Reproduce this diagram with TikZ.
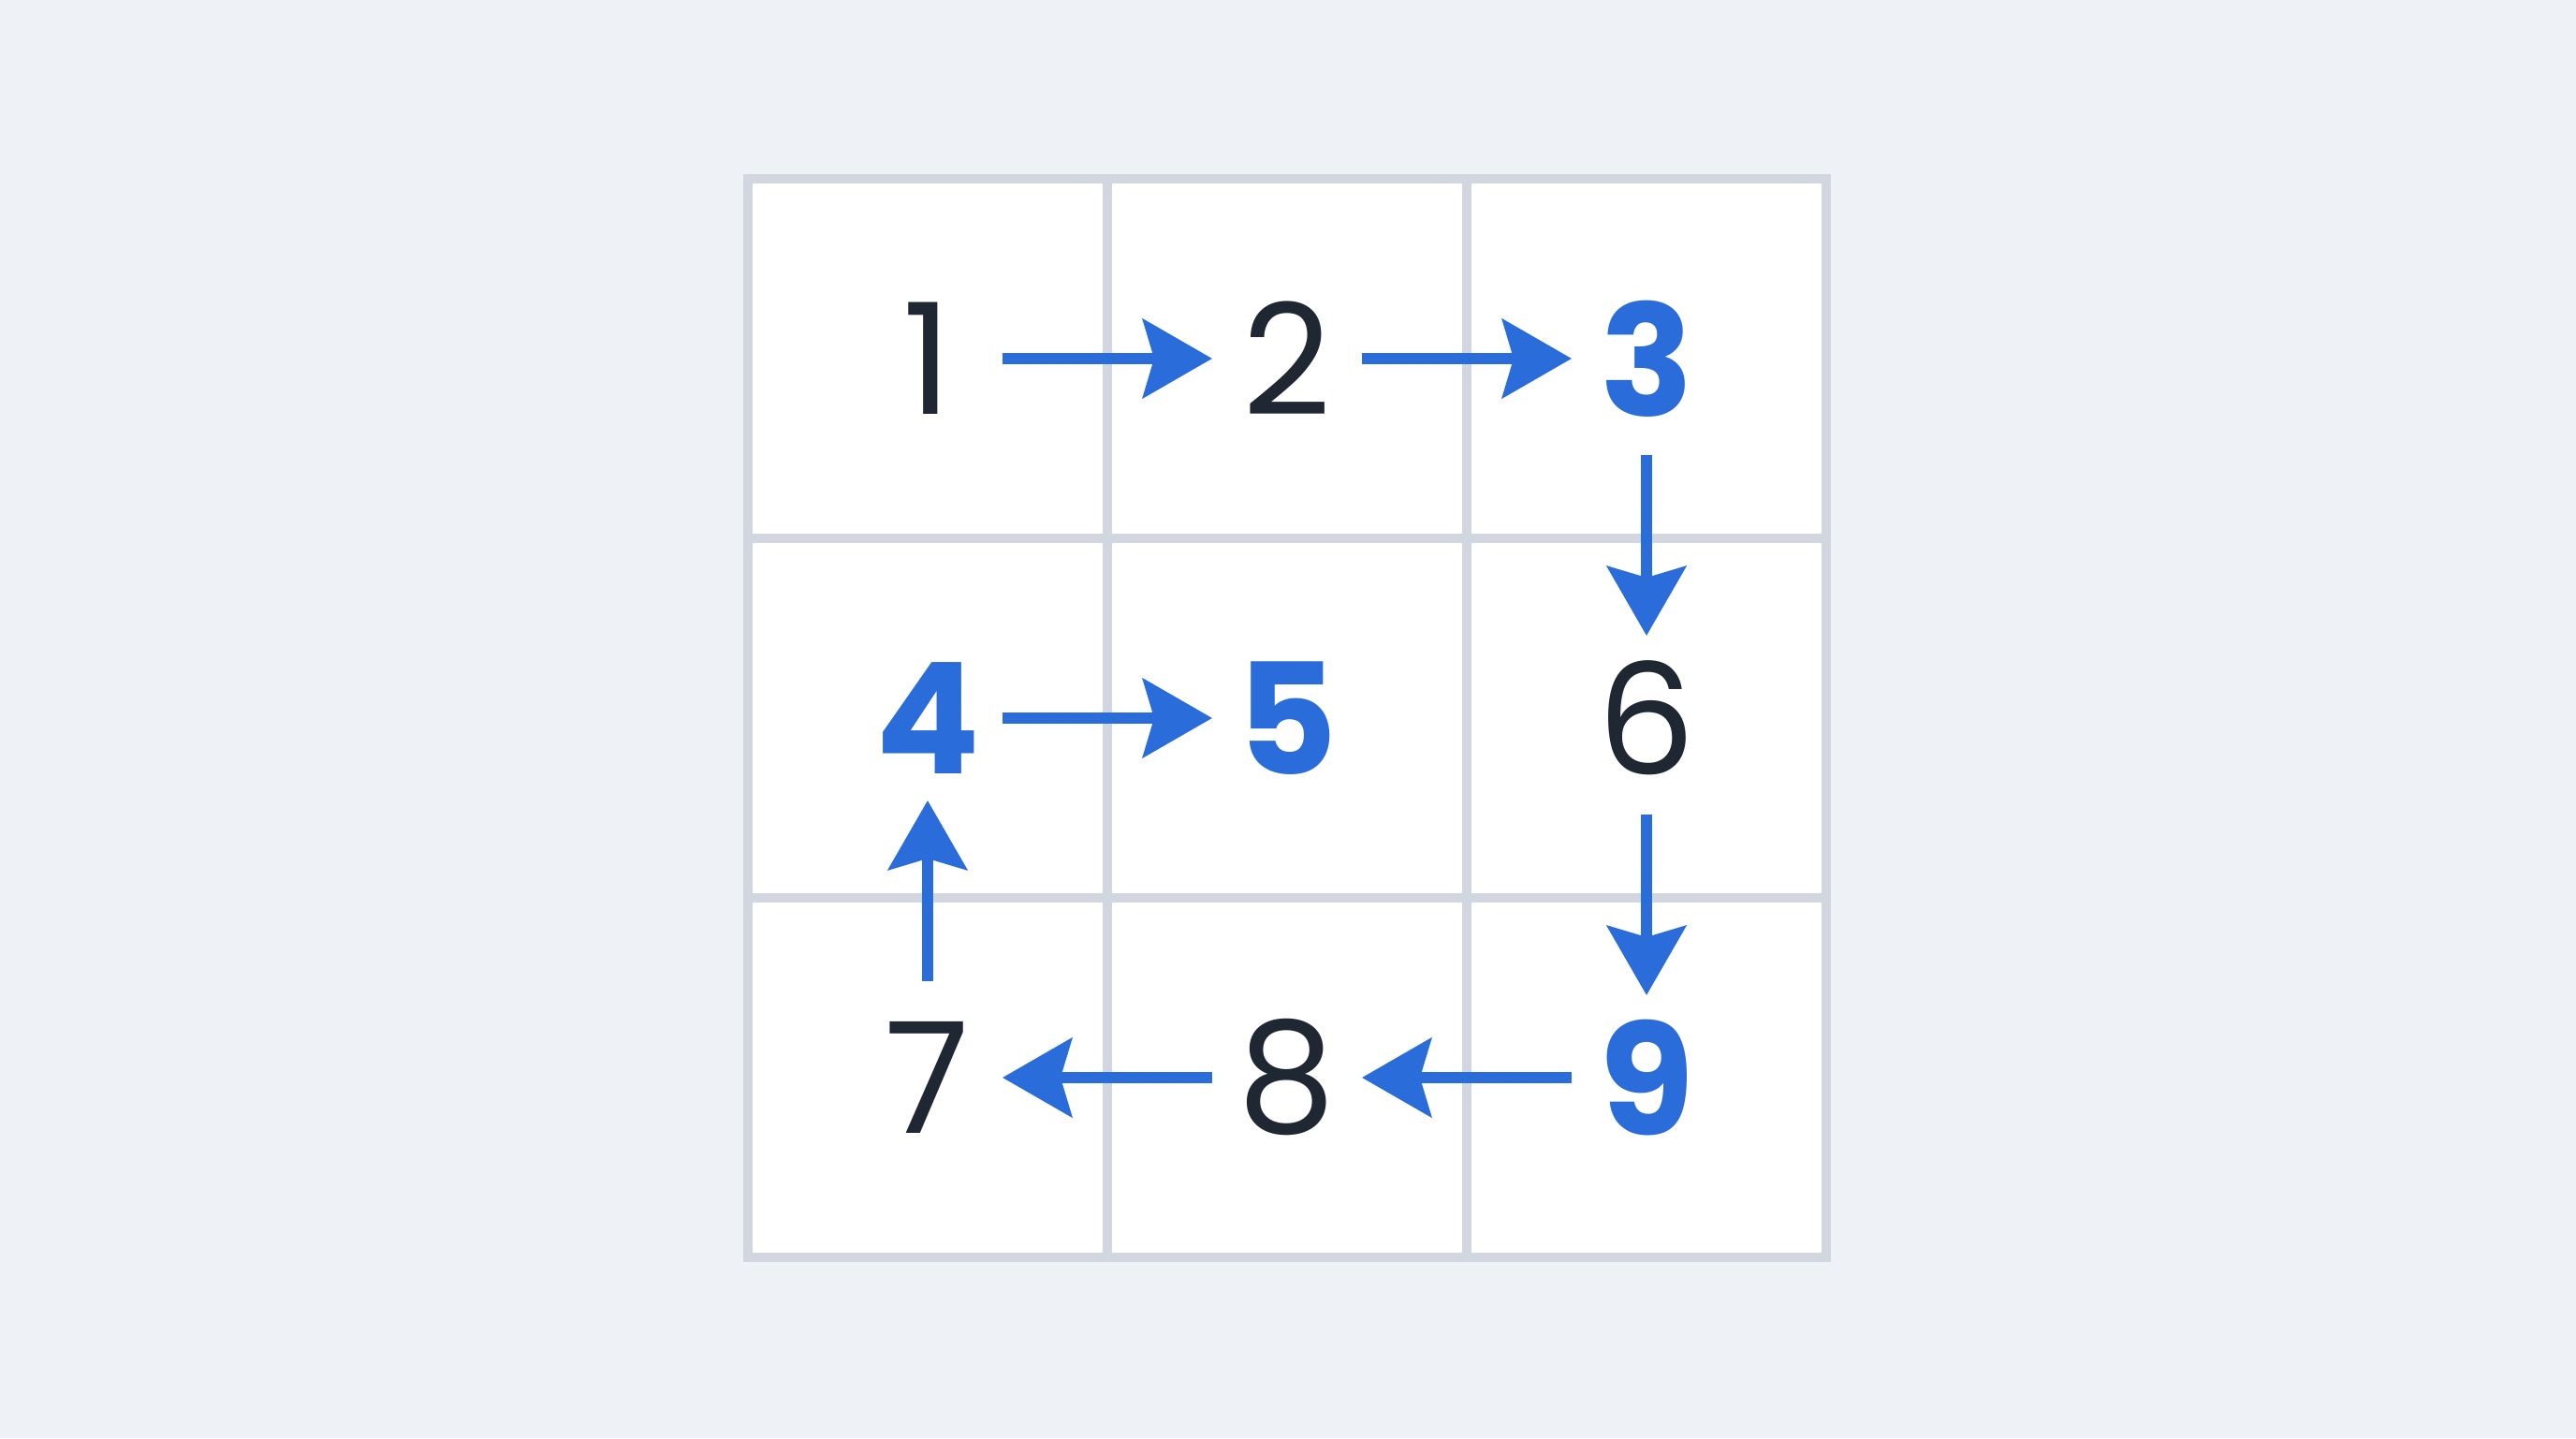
\documentclass[tikz,border=0pt]{standalone}
\usepackage{fontspec}
\setmainfont{Poppins}
\usetikzlibrary{arrows.meta}
\definecolor{pagebg}{HTML}{EEF1F5}
\definecolor{gridgray}{HTML}{D2D7DF}
\definecolor{flowblue}{HTML}{2A6DDA}
\definecolor{inkdark}{HTML}{1F2733}

\begin{document}
\begin{tikzpicture}[
    dig/.style={inner sep=0pt, text=inkdark, font=\fontsize{47}{50}\selectfont},
    hot/.style={dig, text=flowblue, font=\fontsize{47}{50}\selectfont\bfseries},
    cellline/.style={gridgray, line width=2.8pt},
    flow/.style={draw=flowblue, line width=3.2pt,
        -{Stealth[length=0.74cm, width=0.84cm, inset=0.12cm]}},
    across/.style={flow, shorten <=0.8cm, shorten >=0.8cm},
    updown/.style={flow, shorten <=1.03cm, shorten >=0.88cm}
  ]
  \fill[pagebg] (0,0) rectangle (27.52,15.36);
  \useasboundingbox (0,0) rectangle (27.52,15.36);
  \begin{scope}[shift={(7.99,1.93)}]
    \fill[white] (0,0) rectangle (11.52,11.52);
    \draw[cellline] (0,0) grid[step=3.84] (11.53,11.53);
    \draw[cellline] (0,0) rectangle (11.52,11.52);
    % cells, row by row
    \node[dig] (n1) at (1.92,9.60) {1};
    \node[dig] (n2) at (5.76,9.60) {2};
    \node[hot] (n3) at (9.60,9.60) {3};
    \node[hot] (n4) at (1.92,5.76) {4};
    \node[hot] (n5) at (5.76,5.76) {5};
    \node[dig] (n6) at (9.60,5.76) {6};
    \node[dig] (n7) at (1.92,1.92) {7};
    \node[dig] (n8) at (5.76,1.92) {8};
    \node[hot] (n9) at (9.60,1.92) {9};
  \end{scope}
  % the path
  \draw[across] (n1.center) -- (n2.center);
  \draw[across] (n2.center) -- (n3.center);
  \draw[updown] (n3.center) -- (n6.center);
  \draw[updown] (n6.center) -- (n9.center);
  \draw[across] (n9.center) -- (n8.center);
  \draw[across] (n8.center) -- (n7.center);
  \draw[updown] (n7.center) -- (n4.center);
  \draw[across] (n4.center) -- (n5.center);
\end{tikzpicture}
\end{document}
